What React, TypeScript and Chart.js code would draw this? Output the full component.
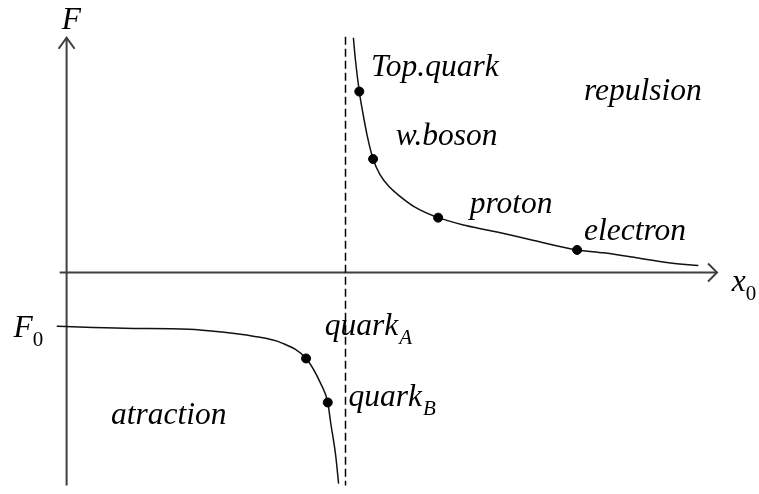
import { useEffect, useRef } from 'react';
import { Chart, registerables } from 'chart.js';

Chart.register(...registerables);

// Repulsive branch (right of the asymptote)
const upperX = [29.1, 29.3, 29.7, 30.1, 30.5, 31.1, 31.8, 32.8, 33.8, 35.3, 37.7, 40.5, 43.8, 47.3, 51.8, 54.5, 57.8, 61.1, 64.1];
const upperF = [24.0, 21.8, 18.5, 16.1, 14.0, 11.6, 10.0, 8.7, 7.8, 6.7, 5.6, 4.8, 4.1, 3.3, 2.3, 2.0, 1.5, 1.0, 0.7];

// Attractive branch (left of the asymptote), starting at F0
const lowerX = [-1.0, 5.8, 12.4, 15.8, 18.8, 21.8, 24.3, 25.8, 26.5, 26.8, 27.3, 27.6];
const lowerF = [-5.5, -5.7, -5.8, -6.1, -6.5, -7.2, -8.8, -11.4, -13.3, -15.4, -18.7, -21.6];

// Particles marked on the curves
const particleX = [29.7, 31.1, 37.7, 51.8, 24.3, 26.5];
const particleF = [18.5, 11.6, 5.6, 2.3, -8.8, -13.3];

// Asymptote and axes extents
const asymptoteX = 28.3;
const axisTopF = 24.0;
const axisBottomF = -21.8;
const axisLeftX = -0.7;
const axisRightX = 66.0;

// Text annotations (anchor in data coordinates: left, baseline)
const labelText = ['Top.quark', 'w.boson', 'proton', 'electron', 'quark', 'quark', 'repulsion', 'atraction', 'F', 'F', 'x'];
const labelSub = ['', '', '', '', 'A', 'B', '', '', '', '0', '0'];
const labelX = [30.9, 33.4, 40.9, 52.5, 26.2, 28.6, 52.5, 4.5, -0.5, -5.4, 67.5];
const labelF = [20.1, 13.0, 6.1, 3.3, -6.4, -13.7, 17.6, -15.5, 24.9, -6.6, -1.9];

const axisColor = '#3f3f3f';
const inkColor = '#111111';
const serif = "'Liberation Serif'";

const overlay = {
  id: 'overlay',
  afterDatasetsDraw(chart: any) {
    const { ctx } = chart;
    const xs = chart.scales.x;
    const ys = chart.scales.y;
    ctx.save();
    // arrow heads
    ctx.strokeStyle = axisColor;
    ctx.lineWidth = 2;
    ctx.lineJoin = 'miter';
    const tx = xs.getPixelForValue(0);
    const ty = ys.getPixelForValue(axisTopF);
    ctx.beginPath();
    ctx.moveTo(tx - 8, ty + 11);
    ctx.lineTo(tx, ty);
    ctx.lineTo(tx + 8, ty + 11);
    ctx.stroke();
    const rx = xs.getPixelForValue(axisRightX);
    const ry = ys.getPixelForValue(0);
    ctx.beginPath();
    ctx.moveTo(rx - 9, ry - 9);
    ctx.lineTo(rx, ry);
    ctx.lineTo(rx - 9, ry + 9);
    ctx.stroke();

    // labels
    ctx.fillStyle = '#000';
    ctx.textBaseline = 'alphabetic';
    ctx.textAlign = 'left';
    for (let i = 0; i < labelText.length; i++) {
      const px = xs.getPixelForValue(labelX[i]);
      const py = ys.getPixelForValue(labelF[i]);
      ctx.font = `italic 31.5px ${serif}`;
      ctx.fillText(labelText[i], px, py);
      if (labelSub[i]) {
        const w = ctx.measureText(labelText[i]).width;
        const isDigit = /\d/.test(labelSub[i]);
        ctx.font = `${isDigit ? 'normal' : 'italic'} 21px ${serif}`;
        ctx.fillText(labelSub[i], px + w + (isDigit ? 0 : 1), py + 9);
      }
    }
    ctx.restore();
  },
};

export default function App() {
  const ref = useRef<HTMLCanvasElement | null>(null);

  useEffect(() => {
    if (!ref.current) return;
    const pts = (xa: number[], ya: number[]) => xa.map((v, i) => ({ x: v, y: ya[i] }));
    const chart = new Chart(ref.current, {
      type: 'line',
      data: {
        datasets: [
          {
            label: 'particles',
            type: 'scatter',
            data: pts(particleX, particleF),
            pointRadius: 4.5,
            pointBackgroundColor: '#000',
            pointBorderColor: '#000',
            showLine: false,
            order: 0,
          } as any,
          {
            label: 'repulsion',
            data: pts(upperX, upperF),
            borderColor: inkColor,
            borderWidth: 1.5,
            pointRadius: 0,
            cubicInterpolationMode: 'monotone',
            fill: false,
            order: 1,
          },
          {
            label: 'attraction',
            data: pts(lowerX, lowerF),
            borderColor: inkColor,
            borderWidth: 1.5,
            pointRadius: 0,
            cubicInterpolationMode: 'monotone',
            fill: false,
            order: 1,
          },
          {
            label: 'asymptote',
            data: [
              { x: asymptoteX, y: axisTopF + 0.1 },
              { x: asymptoteX, y: axisBottomF },
            ],
            borderColor: '#000',
            borderWidth: 1.5,
            borderDash: [8, 4],
            pointRadius: 0,
            fill: false,
            order: 2,
          },
          {
            label: 'F axis',
            data: [
              { x: 0, y: axisBottomF },
              { x: 0, y: axisTopF },
            ],
            borderColor: axisColor,
            borderWidth: 2,
            pointRadius: 0,
            fill: false,
            order: 3,
          },
          {
            label: 'x axis',
            data: [
              { x: axisLeftX, y: 0 },
              { x: axisRightX, y: 0 },
            ],
            borderColor: axisColor,
            borderWidth: 2,
            pointRadius: 0,
            fill: false,
            order: 3,
          },
        ],
      },
      options: {
        responsive: false,
        animation: false,
        devicePixelRatio: 1,
        layout: { padding: 0 },
        parsing: false as any,
        scales: {
          x: { type: 'linear', min: -6.2, max: 69.7, display: false },
          y: { type: 'linear', min: -22.1, max: 27.3, display: false },
        },
        plugins: {
          legend: { display: false },
          tooltip: { enabled: false },
          title: { display: false },
        },
        events: [],
      },
      plugins: [overlay],
    });
    let alive = true;
    const fonts: any = (document as any).fonts;
    if (fonts && fonts.load) {
      Promise.all([
        fonts.load(`italic 31.5px ${serif}`, 'Top.quark'),
        fonts.load(`normal 21px ${serif}`, '0'),
      ])
        .catch(() => null)
        .then(() => {
          if (alive) chart.update();
        });
    }
    return () => {
      alive = false;
      chart.destroy();
    };
  }, []);

  return (
    <div style={{ position: 'absolute', left: 0, top: 0, width: 759, height: 494, background: '#fff' }}>
      <canvas ref={ref} width={759} height={494} style={{ display: 'block', width: 759, height: 494 }} />
    </div>
  );
}
